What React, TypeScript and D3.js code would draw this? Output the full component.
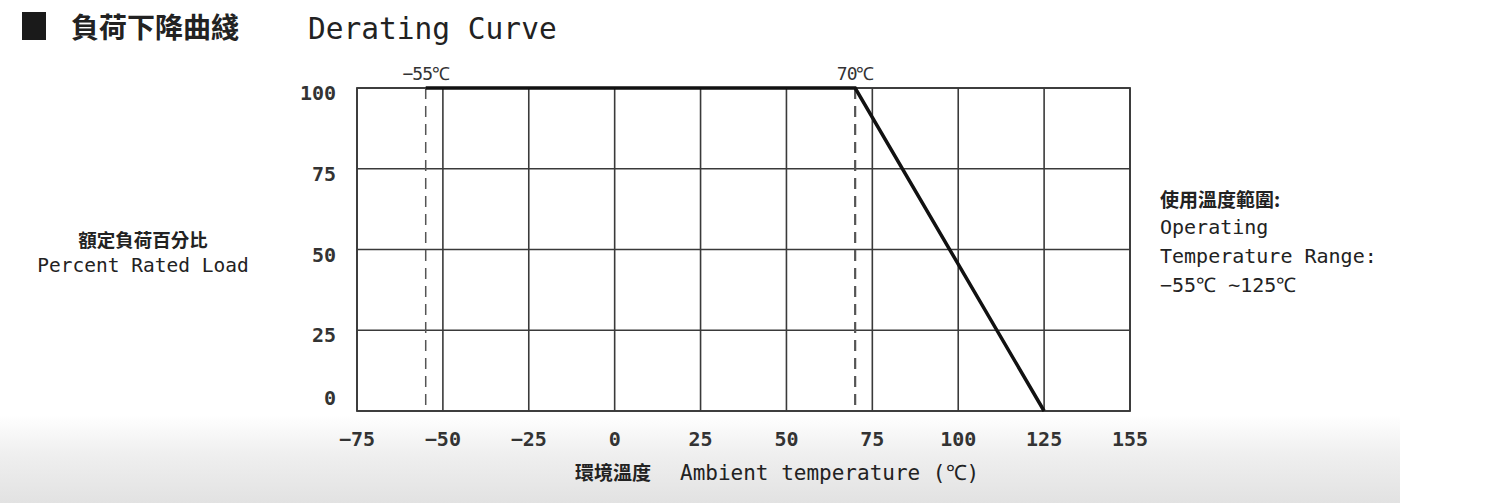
import React from "react";
import * as d3 from "d3";

const xTicks = [-75, -50, -25, 0, 25, 50, 75, 100, 125, 150];
const xTickLabels = ["−75", "−50", "−25", "0", "25", "50", "75", "100", "125", "155"];
const yTicks = [0, 25, 50, 75, 100];
const yTickLabels = ["0", "25", "50", "75", "100"];
const curveTemps = [-55, 70, 125];
const curveLoads = [100, 100, 0];
const markerTemps = [-55, 70];
const markerLabels = ["−55℃", "70℃"];

const MONO = "'DejaVu Sans Mono', 'Liberation Mono', monospace";
const CJK = "'Noto Sans CJK TC', 'Noto Sans CJK SC', sans-serif";

export default function App() {
  const W = 1500, H = 503;
  const x = d3.scaleLinear().domain([-75, 150]).range([357, 1130]);
  const y = d3.scaleLinear().domain([0, 100]).range([411, 88]);
  const pts = curveTemps.map((t, i) => [t, curveLoads[i]] as [number, number]);
  const line = d3.line<[number, number]>().x(d => x(d[0])).y(d => y(d[1]));
  const grid = "#3a3a3a";

  return (
    <svg width={W} height={H} style={{ position: "absolute", left: 0, top: 0, background: "#fff" }}>
      <defs>
        <linearGradient id="bg" x1="0" y1="0" x2="0" y2="1">
          <stop offset="0" stopColor="#ffffff" />
          <stop offset="0.45" stopColor="#efefef" />
          <stop offset="1" stopColor="#e2e2e2" />
        </linearGradient>
      </defs>
      <rect x={0} y={415} width={1400} height={88} fill="url(#bg)" />

      {/* title */}
      <rect x={22} y={12} width={24} height={28} fill="#1a1a1a" />
      <text x={71} y={38} fontFamily={CJK} fontWeight={700} fontSize={28} fill="#222">負荷下降曲綫</text>
      <text x={308} y={39} fontFamily={MONO} fontSize={29.5} fill="#222">Derating Curve</text>

      {/* grid */}
      {xTicks.map(t => (
        <line key={"vx" + t} x1={x(t)} x2={x(t)} y1={y(0)} y2={y(100)} stroke={grid} strokeWidth={1.6} />
      ))}
      {yTicks.map(t => (
        <line key={"hy" + t} x1={x(-75)} x2={x(150)} y1={y(t)} y2={y(t)} stroke={grid} strokeWidth={1.6} />
      ))}
      <rect x={x(-75)} y={y(100)} width={x(150) - x(-75)} height={y(0) - y(100)} fill="none" stroke={grid} strokeWidth={1.8} />

      {/* dashed markers */}
      {markerTemps.map((t, i) => (
        <g key={"m" + t}>
          <line x1={x(t)} x2={x(t)} y1={y(100)} y2={y(0)} stroke="#555" strokeWidth={i === 0 ? 1.5 : 2.2} strokeDasharray="11,7" />
          <text x={x(t)} y={80} textAnchor="middle" fontFamily={MONO} fontSize={18} fill="#333" letterSpacing={-1}>{markerLabels[i]}</text>
        </g>
      ))}

      {/* curve */}
      <path d={line(pts) || ""} fill="none" stroke="#111" strokeWidth={3.5} />

      {/* x tick labels */}
      {xTicks.map((t, i) => (
        <text key={"xl" + t} x={x(t)} y={446} textAnchor="middle" fontFamily={MONO} fontWeight={700} fontSize={20} fill="#333">{xTickLabels[i]}</text>
      ))}
      {/* y tick labels */}
      {yTicks.map((t, i) => (
        <text key={"yl" + t} x={336} y={y(t) + (t === 0 ? -6 : 12)} textAnchor="end" fontFamily={MONO} fontWeight={700} fontSize={20} fill="#333">{yTickLabels[i]}</text>
      ))}

      {/* axis titles */}
      <text x={575} y={480} fontFamily={CJK} fontWeight={700} fontSize={19} fill="#222">環境溫度</text>
      <text x={680} y={480} fontFamily={MONO} fontSize={21} fill="#222">Ambient temperature (℃)</text>

      <text x={143} y={247} textAnchor="middle" fontFamily={CJK} fontWeight={700} fontSize={18.5} fill="#222">額定負荷百分比</text>
      <text x={143} y={272} textAnchor="middle" fontFamily={MONO} fontSize={19.5} fill="#222">Percent Rated Load</text>

      {/* right note */}
      <text x={1160} y={207} fontFamily={CJK} fontWeight={700} fontSize={19} fill="#222">使用溫度範圍:</text>
      <text x={1160} y={234} fontFamily={MONO} fontSize={20} fill="#222">Operating</text>
      <text x={1160} y={263} fontFamily={MONO} fontSize={20} fill="#222">Temperature Range:</text>
      <text x={1160} y={292} fontFamily={MONO} fontSize={20} fill="#222">−55℃ ~125℃</text>
    </svg>
  );
}
